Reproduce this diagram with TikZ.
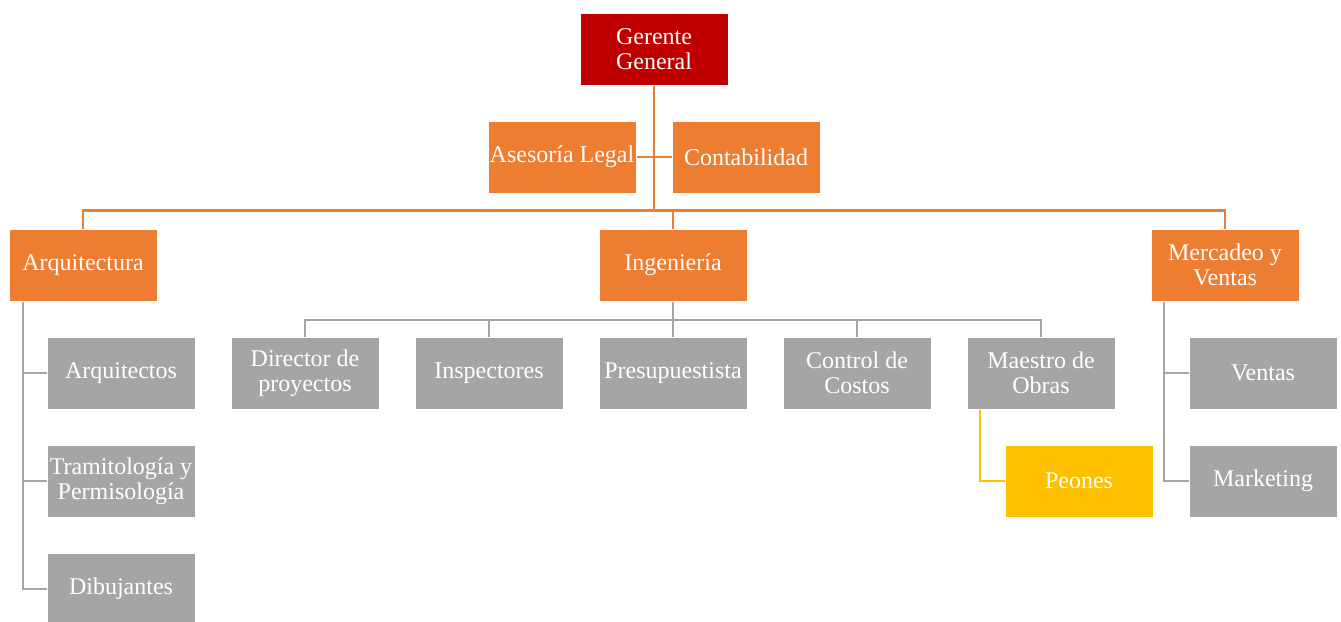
\documentclass[tikz,border=0pt]{standalone}
\usepackage{fontspec}
\setmainfont{Liberation Serif}
\usetikzlibrary{backgrounds}
\definecolor{cRed}{HTML}{C00000}
\definecolor{cOrange}{HTML}{ED7D31}
\definecolor{cGray}{HTML}{A5A5A5}
\definecolor{cYellow}{HTML}{FFC000}
\tikzset{
  box/.style={draw=white, line width=0.75pt, minimum width=111pt, minimum height=54pt,
    inner sep=1pt, align=center, text=white,
    font=\fontsize{18}{19}\selectfont},
  topbox/.style={box, fill=cRed},
  obox/.style={box, fill=cOrange},
  gbox/.style={box, fill=cGray},
  ybox/.style={box, fill=cYellow},
  oline/.style={draw=cOrange, line width=2.2pt},
  gline/.style={draw=cGray, line width=2.2pt},
  yline/.style={draw=cYellow, line width=2.2pt}
}
\begin{document}
\begin{tikzpicture}[x=0.75pt, y=-0.75pt]
\useasboundingbox (0,0) rectangle (1341,621);

% top level
\node[topbox] (gg) at (654,49) {Gerente\\General};
\node[obox] (al) at (562,157) {Asesoría Legal};
\node[obox] (cb) at (746,157) {Contabilidad};

% departments
\node[obox] (arq) at (83,265) {Arquitectura};
\node[obox] (ing) at (673,265) {Ingeniería};
\node[obox] (mv) at (1225,265) {Mercadeo y\\Ventas};

% engineering staff
\node[gbox] (dir) at (305,373) {Director de\\proyectos};
\node[gbox] (insp) at (489,373) {Inspectores};
\node[gbox] (pres) at (673,373) {Presupuestista};
\node[gbox] (ctrl) at (857,373) {Control de\\Costos};
\node[gbox] (mae) at (1041,373) {Maestro de\\Obras};
\node[ybox] (peo) at (1079,481) {Peones};

% architecture staff
\node[gbox] (arqt) at (121,373) {Arquitectos};
\node[gbox] (tram) at (121,481) {Tramitología y\\Permisología};
\node[gbox] (dib) at (121,589) {Dibujantes};

% marketing staff
\node[gbox] (ven) at (1263,373) {Ventas};
\node[gbox] (mkt) at (1263,481) {Marketing};

% junction points
\coordinate (hub) at (654,211);
\coordinate (ingbar) at (673,320);
\coordinate (arqs) at (23,301);
\coordinate (maes) at (980,409);
\coordinate (mvs) at (1164,301);

\begin{scope}[on background layer]
  \draw[oline] (gg.south) -- (hub);
  \draw[oline] (al.east) -- (cb.west);
  \draw[oline] (arq.north) -- ++(0,-18) -| (mv.north);
  \draw[oline] (ing.north) -- (ing.north |- hub);

  \draw[gline] (ing.south) -- (pres.north);
  \draw[gline] (dir.north) |- (ingbar) -| (mae.north);
  \draw[gline] (insp.north) -- (insp.north |- ingbar);
  \draw[gline] (ctrl.north) -- (ctrl.north |- ingbar);

  \draw[yline] (maes) |- (peo.west);

  \draw[gline] (arqs) |- (dib.west);
  \draw[gline] (arqs |- arqt.west) -- (arqt.west);
  \draw[gline] (arqs |- tram.west) -- (tram.west);

  \draw[gline] (mvs) |- (mkt.west);
  \draw[gline] (mvs |- ven.west) -- (ven.west);
\end{scope}
\end{tikzpicture}
\end{document}
